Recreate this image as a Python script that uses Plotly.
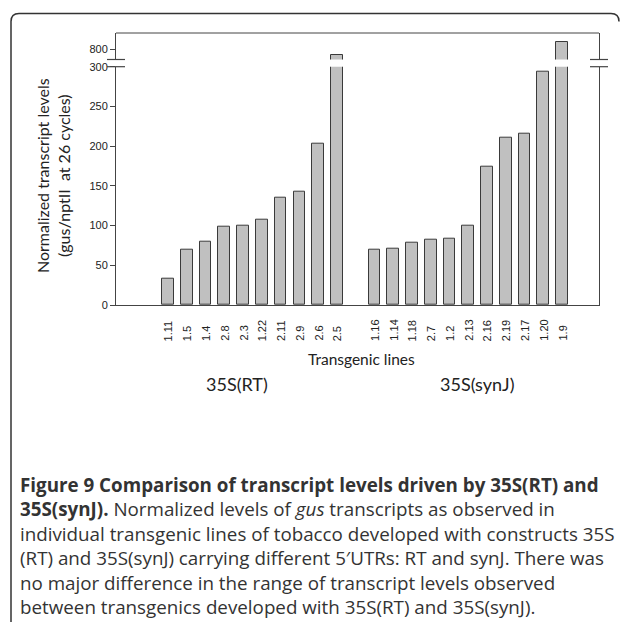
import plotly.graph_objects as go

# ---- data ----
lines_rt = ["1.11", "1.5", "1.4", "2.8", "2.3", "1.22", "2.11", "2.9", "2.6", "2.5"]
vals_rt = [33, 69, 80, 99, 100, 107, 135, 143, 203, 720]
lines_syn = ["1.16", "1.14", "1.18", "2.7", "1.2", "2.13", "2.16", "2.19", "2.17", "1.20", "1.9"]
vals_syn = [70, 71, 79, 82, 83, 100, 174, 211, 216, 294, 920]
lower_ticks = [0, 50, 100, 150, 200, 250, 300]
upper_ticks = [800]
group_names = ["35S(RT)", "35S(synJ)"]
x_title = "Transgenic lines"
y_title = "Normalized transcript levels<br>(gus/nptII  at 26 cycles)"
caption = [
    "<b>Figure 9 Comparison of transcript levels driven by 35S(RT) and</b>",
    "<b>35S(synJ).</b> Normalized levels of <i>gus</i> transcripts as observed in",
    "individual transgenic lines of tobacco developed with constructs 35S",
    "(RT) and 35S(synJ) carrying different 5\u2032UTRs: RT and synJ. There was",
    "no major difference in the range of transcript levels observed",
    "between transgenics developed with 35S(RT) and 35S(synJ).",
]

# positions: one empty slot between the two groups
pos_rt = list(range(len(lines_rt)))
pos_syn = [len(lines_rt) + 1 + i for i in range(len(lines_syn))]
xs = pos_rt + pos_syn
labels = lines_rt + lines_syn
vals = vals_rt + vals_syn

# ---- geometry: screen pixels (page has an 8px body margin) ----
OFF = 8
W, H = 612, 614
plot_left, plot_right, plot_top, plot_bottom = 116, 599, 33, 305  # screen px
L = plot_left - OFF
R = W - (plot_right - OFF)
T = plot_top - OFF
B = H - (plot_bottom - OFF)
pw, ph = W - L - R, H - T - B


def px(x):
    return (x - OFF - L) / pw


def py(y):
    return ((plot_bottom - OFF) - (y - OFF)) / ph


low_top = py(66.7)
up_bot = py(59.5)

bar_style = dict(color="#c0c0c0", line=dict(color="#3a3a3a", width=1))

fig = go.Figure()
fig.add_trace(go.Bar(x=xs, y=vals, width=0.62, marker=bar_style,
                     xaxis="x", yaxis="y", showlegend=False, hoverinfo="skip"))
fig.add_trace(go.Bar(x=xs, y=vals, width=0.62, marker=bar_style,
                     xaxis="x", yaxis="y2", showlegend=False, hoverinfo="skip"))

axis_font = dict(family="Liberation Sans, Arial", size=11, color="#222")
line_col = "#444"

fig.update_layout(
    width=W, height=H,
    margin=dict(l=L, r=R, t=T, b=B, pad=0),
    paper_bgcolor="white", plot_bgcolor="white",
    bargap=0,
    xaxis=dict(range=[-2.77, 22.97], showgrid=False, zeroline=False,
               showticklabels=False, ticks="", showline=True,
               linecolor=line_col, linewidth=1, anchor="y"),
    yaxis=dict(domain=[0, low_top], range=[0, 300], tickvals=lower_ticks,
               showgrid=False, zeroline=False, showline=True, mirror=True,
               linecolor=line_col, linewidth=1, ticks="outside", ticklen=5,
               tickcolor=line_col, tickfont=axis_font, anchor="x"),
    yaxis2=dict(domain=[up_bot, 1], range=[650, 1050], tickvals=upper_ticks,
                showgrid=False, zeroline=False, showline=True, mirror=True,
                linecolor=line_col, linewidth=1, ticks="outside", ticklen=5,
                tickcolor=line_col, tickfont=axis_font, anchor="x"),
)

shapes = []
# top frame line
shapes.append(dict(type="line", xref="paper", yref="paper", x0=0, x1=1, y0=1, y1=1,
                   line=dict(color=line_col, width=1)))
# break marks on both vertical axes
for xa in (0, 1):
    for yb in (low_top, up_bot):
        shapes.append(dict(type="line", xref="paper", yref="paper",
                           xsizemode="pixel", xanchor=xa, x0=-9, x1=9,
                           y0=yb, y1=yb, line=dict(color=line_col, width=1.2)))
# outer rounded border (open at the bottom)
r = 8
bl, bt, br, bb = 11, 13.5, 619, 627
path = (f"M {px(bl)},{py(bb)} L {px(bl)},{py(bt + r)} "
        f"Q {px(bl)},{py(bt)} {px(bl + r)},{py(bt)} "
        f"L {px(br - r)},{py(bt)} Q {px(br)},{py(bt)} {px(br)},{py(bt + r)}")
shapes.append(dict(type="path", xref="paper", yref="paper", path=path,
                   line=dict(color="#333", width=1.5)))
fig.update_layout(shapes=shapes)

ann = []
for x, lab in zip(xs, labels):
    ann.append(dict(x=x, xref="x", y=py(343), yref="paper", text=lab,
                    textangle=-90, showarrow=False, xanchor="center",
                    yanchor="bottom", font=axis_font))
ann.append(dict(x=px(361), y=py(359), xref="paper", yref="paper", text=x_title,
                showarrow=False, xanchor="center", yanchor="middle",
                font=dict(family="Lato", size=15.5, color="#222")))
for gname, gx in zip(group_names, (237, 477)):
    ann.append(dict(x=px(gx), y=py(384), xref="paper", yref="paper", text=gname,
                    showarrow=False, xanchor="center", yanchor="middle",
                    font=dict(family="Lato", size=18, color="#222")))
ann.append(dict(x=px(53), y=py(176), xref="paper", yref="paper", text=y_title,
                textangle=-90, showarrow=False, xanchor="center", yanchor="middle",
                font=dict(family="Lato", size=16, color="#222")))
ann.append(dict(x=px(18), y=py(546), xref="paper", yref="paper",
                text="<br>".join(caption), showarrow=False,
                xanchor="left", yanchor="middle", align="left",
                font=dict(family="Open Sans", size=18.8, color="#333")))
fig.update_layout(annotations=ann)

fig.write_html("out.html")
